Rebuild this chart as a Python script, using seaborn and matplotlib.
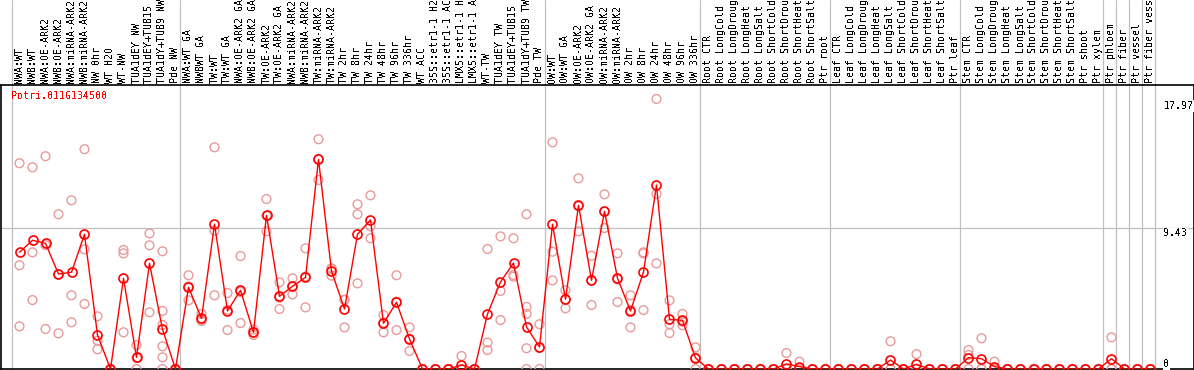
import numpy as np
import pandas as pd
import matplotlib
matplotlib.use("Agg")
import matplotlib.pyplot as plt
import seaborn as sns

title = "Potri.011G134500"

categories = [
    "NWA:WT", "NWB:WT", "NWA:OE-ARK2", "NWB:OE-ARK2", "NWA:miRNA-ARK2", "NWB:miRNA-ARK2",
    "NW 0hr", "WT H2O", "WT-NW", "TUA1dEY NW", "TUA1dEY+TUB15 ", "TUA1dY+TUB9 NW", "Pde NW",
    "NWA:WT GA", "NWBWT GA", "TW:WT", "TW:WT GA", "NWA:OE-ARK2 GA", "NWB:OE-ARK2 GA",
    "TW:OE-ARK2", "TW:OE-ARK2 GA", "NWA:miRNA-ARK2", "NWB:miRNA-ARK2", "TW:miRNA-ARK2",
    "TW:miRNA-ARK2", "TW 2hr", "TW 8hr", "TW 24hr", "TW 48hr", "TW 96hr", "TW 336hr",
    "WT ACC", "35S::etr1-1 H2", "35S::etr1-1 AC", "LMX5::etr1-1 H", "LMX5::etr1-1 A",
    "WT-TW", "TUA1dEY TW", "TUA1dEY+TUB15 ", "TUA1dY+TUB9 TW", "Pde TW",
    "OW:WT", "OW:WT GA", "OW:OE-ARK2", "OW:OE-ARK2 GA", "OW:miRNA-ARK2", "OW:miRNA-ARK2",
    "OW 2hr", "OW 8hr", "OW 24hr", "OW 48hr", "OW 96hr", "OW 336hr",
    "Root CTR", "Root LongCold", "Root LongDroug", "Root LongHeat", "Root LongSalt",
    "Root ShortCold", "Root ShortDrou", "Root ShortHeat", "Root ShortSalt", "Ptr root",
    "Leaf CTR", "Leaf LongCold", "Leaf LongDroug", "Leaf LongHeat", "Leaf LongSalt",
    "Leaf ShortCold", "Leaf ShortDrou", "Leaf ShortHeat", "Leaf ShortSalt", "Ptr leaf",
    "Stem CTR", "Stem LongCold", "Stem LongDroug", "Stem LongHeat", "Stem LongSalt",
    "Stem ShortCold", "Stem ShortDrou", "Stem ShortHeat", "Stem ShortSalt", "Ptr shoot",
    "Ptr xylem", "Ptr phloem", "Ptr fiber", "Ptr vessel", "Ptr fiber vess",
]

# index of first category of each group (separators)
group_starts = [0, 13, 41, 53, 63, 73, 84, 85, 86, 87, 88]

means = [
    7.82, 8.63, 8.42, 6.37, 6.48, 9.03, 2.28, 0, 6.08, 0.78,
    7.08, 2.66, 0, 5.47, 3.40, 9.70, 3.89, 5.27, 2.46, 10.30,
    4.87, 5.54, 6.14, 14.05, 6.57, 4.02, 9.03, 9.99, 3.06, 4.47,
    2.01, 0, 0, 0, 0.27, 0, 3.69, 5.83, 7.10, 2.82,
    1.47, 9.70, 4.67, 10.97, 5.94, 10.57, 6.08, 3.89, 6.50, 12.33,
    3.33, 3.26, 0.74, 0, 0, 0, 0, 0, 0, 0.34,
    0.16, 0, 0, 0, 0, 0, 0, 0.60, 0, 0.31,
    0, 0, 0, 0.76, 0.69, 0.16, 0, 0, 0, 0,
    0, 0, 0, 0, 0.69, 0, 0, 0,
]

replicates = [
    [13.79, 6.95, 2.86], [13.52, 7.82, 4.62], [14.26, 8.31, 2.68], [10.37, 6.35, 2.39],
    [11.31, 4.94, 3.13], [14.73, 8.02, 4.36], [3.53, 1.90, 1.32], [0, 0, 0],
    [7.98, 7.75, 2.46], [1.61, 0.73, 0], [9.09, 8.29, 3.80],
    [7.89, 3.89, 2.95, 1.52, 0.78, 0], [0, 0, 0], [6.28, 5.53, 4.60],
    [3.69, 3.29, 3.22], [14.86, 9.27, 4.94], [5.09, 3.97, 2.61], [7.57, 5.16, 3.08],
    [2.64, 2.46, 2.28], [11.39, 10.28, 9.23], [5.81, 4.78, 4.02], [6.08, 5.54, 5.00],
    [8.09, 6.20, 4.13], [15.40, 14.08, 12.67], [6.75, 6.70, 6.26], [4.65, 4.62, 2.79],
    [11.04, 10.37, 5.74], [11.64, 9.56, 8.76], [3.62, 3.10, 2.46], [6.28, 4.52, 2.61],
    [2.79, 2.03, 1.21], [0, 0, 0], [0, 0, 0], [0, 0, 0], [0.87, 0, 0], [0, 0, 0],
    [8.04, 1.77, 1.27], [8.89, 5.23, 3.28], [8.76, 6.30, 6.19],
    [10.37, 4.16, 3.69, 1.39, 0], [3.00, 1.41, 0], [15.19, 7.86, 5.94],
    [5.29, 4.65, 4.07], [12.78, 10.90, 9.23], [7.59, 5.94, 4.29], [11.71, 10.55, 9.45],
    [7.75, 6.00, 4.49], [4.94, 3.94, 2.79], [7.82, 7.75, 3.95], [18.10, 11.73, 7.08],
    [4.60, 3.00, 2.41], [3.69, 3.17, 2.93], [1.45, 0.77, 0],
    [0, 0, 0], [0, 0, 0], [0, 0, 0], [0, 0, 0], [0, 0, 0], [0, 0, 0],
    [1.07, 0, 0], [0.49, 0, 0], [0, 0, 0], [0, 0, 0], [0, 0, 0], [0, 0, 0], [0, 0, 0],
    [0, 0, 0], [1.86, 0, 0], [0, 0, 0], [1.00, 0, 0], [0, 0, 0], [0, 0, 0], [0, 0, 0],
    [1.27, 0.94, 0], [2.06, 0, 0], [0.49, 0, 0], [0, 0, 0], [0, 0, 0], [0, 0, 0],
    [0, 0, 0], [0, 0, 0], [0, 0, 0], [0, 0, 0], [0, 0, 0], [2.12, 0, 0],
    [0, 0, 0], [0, 0, 0], [0, 0, 0],
]

ytick_values = [17.97, 9.43, 0]
ytick_labels = ["17.97", "9.43", "0"]

# ---------------------------------------------------------------
sns.set_style("white")
plt.rcParams["font.family"] = ["DejaVu Sans Mono", "DejaVu Sans"]
plt.rcParams["text.antialiased"] = False

W, H = 1194, 370
fig = plt.figure(figsize=(W / 100, H / 100), dpi=100)
ax_bottom_px, ax_top_px = 369, 85
ax = fig.add_axes([0.5 / W, (H - ax_bottom_px) / H, 1193 / W, (ax_bottom_px - ax_top_px) / H])

rep_df = pd.DataFrame(
    [(i, v) for i, reps in enumerate(replicates) for v in reps], columns=["idx", "value"]
)
mean_df = pd.DataFrame({"idx": np.arange(len(means)), "value": means})

pink = "#e99a9a"
sns.scatterplot(data=rep_df, x="idx", y="value", ax=ax, marker="o", s=40,
                facecolor="none", edgecolor=pink, linewidth=1.0, zorder=3, legend=False)
sns.lineplot(data=mean_df, x="idx", y="value", ax=ax, color="#ff0000", linewidth=1.0,
             marker="o", markersize=6.5, markerfacecolor="none", markeredgecolor="#ff0000",
             markeredgewidth=1.2, zorder=4, legend=False)

xmin = -19 / 13
xmax = xmin + 1193 / 13
ax.set_xlim(xmin, xmax)
ax.set_ylim(0, (ax_bottom_px - ax_top_px) / 14.92)

ax.set_xticks([])
ax.set_yticks([])
ax.set_xlabel("")
ax.set_ylabel("")
for sp in ax.spines.values():
    sp.set_color("black")
    sp.set_linewidth(1.2)

# horizontal grid line at middle tick
ax.axhline(9.43, color="#c0c0c0", linewidth=0.9, zorder=1)

# group separators extending through label area
top_axes = ax_bottom_px / (ax_bottom_px - ax_top_px)
xt = ax.get_xaxis_transform()
for g in group_starts:
    ax.plot([g - 8 / 13, g - 8 / 13], [0, top_axes], transform=xt, color="#c0c0c0",
            linewidth=0.9, clip_on=False, zorder=1)

# category labels (rotated)
lab_y = 1 + 2 / (ax_bottom_px - ax_top_px)
for i, lab in enumerate(categories):
    ax.text(i, lab_y, lab, transform=xt, rotation=90, ha="center", va="bottom",
            fontsize=7.2, color="black")

# title
ax.text(10 / 1193, 1 - 6 / (ax_bottom_px - ax_top_px), title, transform=ax.transAxes,
        ha="left", va="top", fontsize=7.2, color="#ff0000")

# right-hand value labels
yt = ax.get_yaxis_transform()
xpos = 1163 / 1193
for v, lab in zip(ytick_values, ytick_labels):
    va = "bottom" if v == 0 else "top"
    ax.text(xpos, v, lab, transform=yt, ha="left", va=va, fontsize=7.2, color="black",
            bbox=dict(facecolor="white", edgecolor="none", pad=0.5))

fig.savefig("out.png", dpi=100)
